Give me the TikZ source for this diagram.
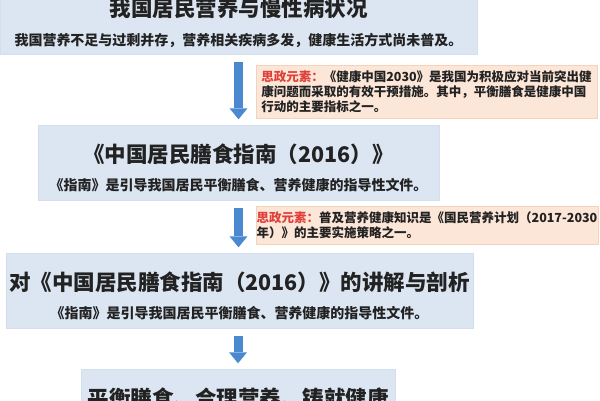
\documentclass[tikz,border=0pt]{standalone}
\usepackage{fontspec}
\setmainfont{Noto Sans CJK SC}
\usetikzlibrary{positioning,arrows.meta}
\definecolor{boxblue}{HTML}{DCE6F2}
\definecolor{boxline}{HTML}{D3DFEE}
\definecolor{notefill}{HTML}{FCE6D8}
\definecolor{noteline}{HTML}{F4D2BC}
\definecolor{flowblue}{HTML}{4A88CF}
\definecolor{szred}{HTML}{E0403A}
\definecolor{inkgray}{HTML}{222222}
\tikzstyle{block} = [draw=boxline, fill=boxblue, rectangle, minimum height=75pt]
\tikzstyle{head} = [inner sep=0pt, text=inkgray, font=\fontsize{21.5}{25}\selectfont\bfseries]
\tikzstyle{sub} = [inner sep=0pt, text=inkgray, font=\fontsize{14}{17}\selectfont\bfseries]
\tikzstyle{note} = [draw=noteline, fill=notefill, rectangle, align=left, inner sep=0pt, text=inkgray, font=\fontsize{12.5}{15}\selectfont\bfseries]
\tikzstyle{flow} = [draw=flowblue, line width=9pt, -{Triangle[width=18pt,length=11pt,line width=0pt]}, shorten <=7.5pt, shorten >=5.5pt]
\newcommand{\szys}{\textcolor{szred}{思政元素：}}

\begin{document}
\begin{tikzpicture}[node distance=145.5pt]

\useasboundingbox (0,0) rectangle (600pt,-400pt);

\node [block, minimum width=477pt] at (238.5pt,-17pt) (diet) {};
\node [block, below of=diet, minimum width=401pt] (guide) {};
\node [block, below of=guide, node distance=128pt, xshift=1pt, minimum width=467pt] (lecture) {};
\node [block, below of=lecture, node distance=116pt, xshift=-1.5pt, minimum width=314pt] (motto) {};

% titles and sub-lines
\node [head, above of=diet, node distance=9pt] (diethead) {我国居民营养与慢性病状况};
\node [sub, below of=diet, node distance=23pt] (dietsub) {我国营养不足与过剩并存，营养相关疾病多发，健康生活方式尚未普及。};
\node [head, above of=guide, node distance=8pt] (guidehead) {《中国居民膳食指南（2016）》};
\node [sub, below of=guide, node distance=23pt] (guidesub) {《指南》是引导我国居民平衡膳食、营养健康的指导性文件。};
\node [head, above of=lecture, node distance=8pt] (lecturehead) {对《中国居民膳食指南（2016）》的讲解与剖析};
\node [sub, below of=lecture, node distance=23pt] (lecturesub) {《指南》是引导我国居民平衡膳食、营养健康的指导性文件。};
\node [head, above of=motto, node distance=8.5pt] (mottohead) {平衡膳食、合理营养、铸就健康};

% side notes
\node [note, below of=diet, node distance=74.5pt, xshift=188pt, minimum width=341pt, minimum height=53pt] (goal)
  {\szys《健康中国2030》是我国为积极应对当前突出健\\康问题而采取的有效干预措施。其中，平衡膳食是健康中国\\行动的主要指标之一。};
\node [note, below of=guide, node distance=62.5pt, xshift=188.5pt, minimum width=342pt, minimum height=38pt] (plan)
  {\szys 普及营养健康知识是《国民营养计划（2017-2030\\年）》的主要实施策略之一。};

\draw [flow] (diet) -- (guide);
\draw [flow] (guide.south) -- (guide.south |- lecture.north);
\draw [flow] (motto.north |- lecture.south) -- (motto);

\end{tikzpicture}
\end{document}
